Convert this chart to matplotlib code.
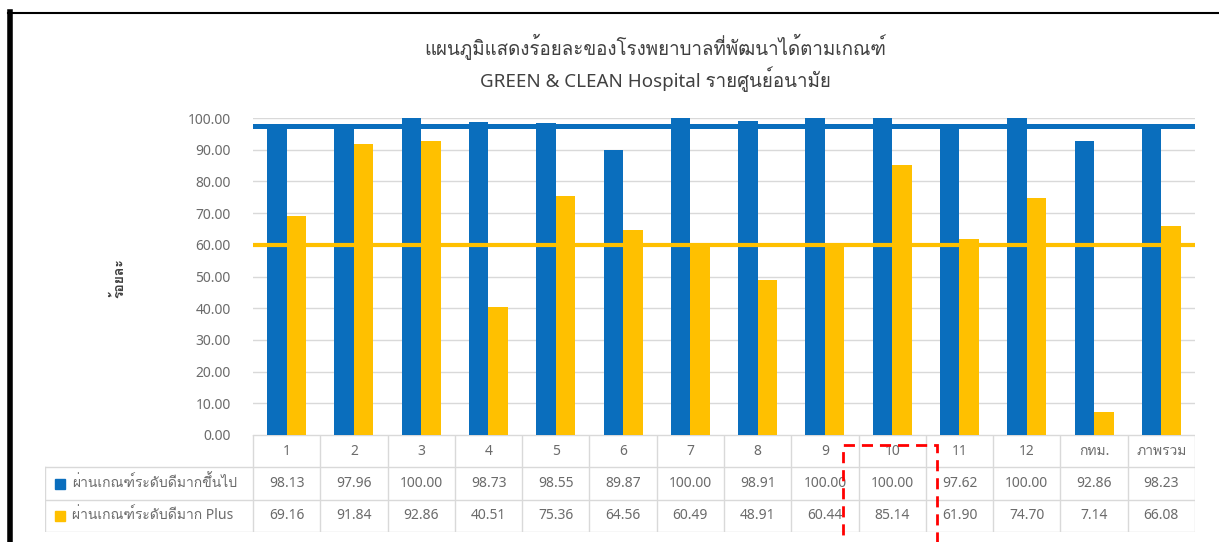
import numpy as np
import matplotlib.pyplot as plt
from matplotlib import font_manager, ft2font
from matplotlib.patches import Rectangle
from matplotlib.lines import Line2D

# data
cats = ['1', '2', '3', '4', '5', '6', '7', '8', '9', '10', '11', '12', 'กทม.', 'ภาพรวม']
very_good = [98.13, 97.96, 100.00, 98.73, 98.55, 89.87, 100.00, 98.91, 100.00, 100.00, 97.62, 100.00, 92.86, 98.23]
very_good_plus = [69.16, 91.84, 92.86, 40.51, 75.36, 64.56, 60.49, 48.91, 60.44, 85.14, 61.90, 74.70, 7.14, 66.08]
series_names = ['ผ่านเกณฑ์ระดับดีมากขึ้นไป', 'ผ่านเกณฑ์ระดับดีมาก Plus']
target_lines = [97.5, 60]


def thai_font():
    # pick any installed font that has Thai glyphs
    for f in font_manager.fontManager.ttflist:
        try:
            if ft2font.FT2Font(f.fname).get_char_index(0x0E01):
                return f.name
        except Exception:
            pass
    return None


th = thai_font()
fams = ['Noto Sans'] + ([th] if th else []) + ['DejaVu Sans']
plt.rcParams['font.family'] = fams

BLUE = '#0a6ebd'
YELLOW = '#ffc000'
GRID = '#d9d9d9'
TXT = '#6b6b6b'

W, H = 1219, 542
fig = plt.figure(figsize=(W / 100, H / 100), dpi=100)

# plot area in pixels
x0, x1, ytop, ybot = 253, 1195, 118, 435
ax = fig.add_axes([x0 / W, 1 - ybot / H, (x1 - x0) / W, (ybot - ytop) / H])

x = np.arange(len(cats))
bw = 0.29
ax.bar(x - bw / 2, very_good, bw, color=BLUE, zorder=2)
ax.bar(x + bw / 2, very_good_plus, bw, color=YELLOW, zorder=2)
ax.axhline(target_lines[0], color=BLUE, lw=3.6, zorder=3)
ax.axhline(target_lines[1], color=YELLOW, lw=3.0, zorder=3)

ax.set_xlim(-0.5, len(cats) - 0.5)
ax.set_ylim(0, 100)
ax.set_yticks(np.arange(0, 101, 10))
ax.set_yticklabels(['%.2f' % v for v in np.arange(0, 101, 10)])
ax.set_xticks([])
ax.tick_params(axis='y', length=0, pad=16, labelsize=10, labelcolor=TXT)
ax.grid(axis='y', color=GRID, lw=1, zorder=0)
for s in ax.spines.values():
    s.set_visible(False)

# data table under the chart
col_px = (x1 - x0) / len(cats)
tl = 45
tax = fig.add_axes([tl / W, 1 - 532 / H, (x1 - tl) / W, (532 - ybot) / H])
tax.set_xlim(-0.5 - (x0 - tl) / col_px, len(cats) - 0.5)
tax.set_ylim(3, 0)
tax.axis('off')
xl = -0.5 - (x0 - tl) / col_px
for b in np.arange(-0.5, len(cats), 1.0):
    tax.plot([b, b], [0, 3], color=GRID, lw=1)
tax.plot([xl, xl], [1, 3], color=GRID, lw=1)
tax.plot([-0.5, len(cats) - 0.5], [0, 0], color=GRID, lw=1)
for r in [1, 2, 3]:
    tax.plot([xl, len(cats) - 0.5], [r, r], color=GRID, lw=1)
for i, c in enumerate(cats):
    tax.text(i, 0.5, c, ha='center', va='center', fontsize=10, color=TXT)
    tax.text(i, 1.5, '%.2f' % very_good[i], ha='center', va='center', fontsize=10, color=TXT)
    tax.text(i, 2.5, '%.2f' % very_good_plus[i], ha='center', va='center', fontsize=10, color=TXT)
for r, (name, col) in enumerate(zip(series_names, [BLUE, YELLOW])):
    tax.plot(xl + 15 / col_px, r + 1.5, marker='s', ms=7, color=col, ls='none')
    tax.text(xl + 27 / col_px, r + 1.5, name, ha='left', va='center', fontsize=10, color=TXT)

# titles
fig.text(655 / W, 1 - 47 / H, 'แผนภูมิแสดงร้อยละของโรงพยาบาลที่พัฒนาได้ตามเกณฑ์',
         ha='center', va='center', fontsize=13.5, color='#404040')
fig.text(655 / W, 1 - 79 / H, 'GREEN & CLEAN Hospital รายศูนย์อนามัย',
         ha='center', va='center', fontsize=13.5, color='#404040')
fig.text(120 / W, 1 - 278 / H, 'ร้อยละ', rotation=90, ha='center', va='center',
         fontsize=10, color='#404040', fontweight='bold')

# black frame of the screenshot
fig.add_artist(Line2D([8 / W, 1], [1 - 13 / H, 1 - 13 / H], color='black', lw=1.5))
fig.add_artist(Line2D([10 / W, 10 / W], [0, 1 - 12 / H], color='black', lw=4))

# red dashed highlight around column 10
fig.add_artist(Rectangle((843 / W, -0.05), (937 - 843) / W, 0.05 + (542 - 445) / H,
                         transform=fig.transFigure, fill=False, edgecolor='red',
                         lw=2, ls=(0, (4, 2.5))))

fig.savefig('out.png', dpi=100)
